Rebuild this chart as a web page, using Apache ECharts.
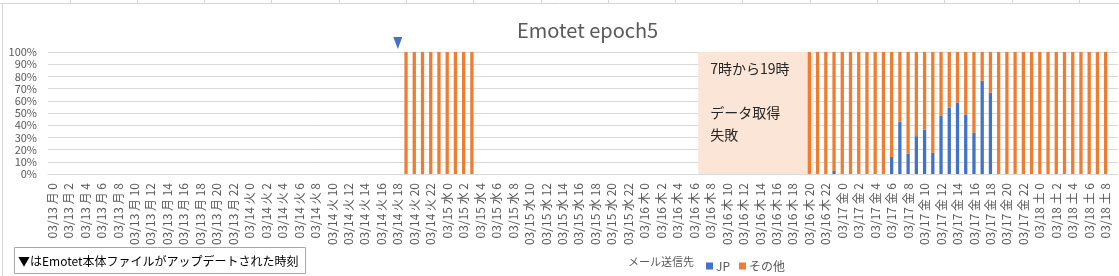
<!DOCTYPE html>
<html>
<head>
<meta charset="utf-8">
<script src="https://cdn.jsdelivr.net/npm/echarts@6/dist/echarts.min.js"></script>
<style>
  html, body { margin: 0; padding: 0; background: #fff; }
  #chart { width: 1119px; height: 276px; }
</style>
</head>
<body>
<div id="chart"></div>
<script>
const N = null;

// one label per hour, "MM/DD 曜 h"
const days = ["03/13 月", "03/14 火", "03/15 水", "03/16 木", "03/17 金", "03/18 土"];
const hoursInDay = [24, 24, 24, 24, 24, 10];

// share of mails sent to JP (%), per hour
const jp_0313 = [N,N,N,N,N,N,N,N,N,N,N,N,N,N,N,N,N,N,N,N,N,N,N,N];
const jp_0314 = [N,N,N,N,N,N,N,N,N,N,N,N,N,N,N,N,N,N,N,0,0,0,0,0];
const jp_0315 = [0,0,0,0,N,N,N,N,N,N,N,N,N,N,N,N,N,N,N,N,N,N,N,N];
const jp_0316 = [N,N,N,N,N,N,N,N,N,N,N,N,N,N,N,N,N,N,N,N,0,0.5,0,2.5];
const jp_0317 = [0,0,0.5,0,0,0,14,43,16.7,31,36.4,17.3,48,54.5,58.6,48.8,33.7,76.4,66.8,0,0,0,0,0];
const jp_0318 = [0,0,0,0,0,0,0.6,0.6,0,N];

// share of mails sent elsewhere (%), per hour
const other_0313 = [N,N,N,N,N,N,N,N,N,N,N,N,N,N,N,N,N,N,N,N,N,N,N,N];
const other_0314 = [N,N,N,N,N,N,N,N,N,N,N,N,N,N,N,N,N,N,N,100,100,100,100,100];
const other_0315 = [100,100,100,100,N,N,N,N,N,N,N,N,N,N,N,N,N,N,N,N,N,N,N,N];
const other_0316 = [N,N,N,N,N,N,N,N,N,N,N,N,N,N,N,N,N,N,N,N,100,99.5,100,97.5];
const other_0317 = [100,100,99.5,100,100,100,86,57,83.3,69,63.6,82.7,52,45.5,41.4,51.2,66.3,23.6,33.2,100,100,100,100,100];
const other_0318 = [100,100,100,100,100,100,99.4,99.4,100,N];

const yTicks = [0, 100, 10]; // min, max, step

const updateAt = "03/14 火 18";
// no data from 7時 up to (not incl.) 20時
const failFrom = "03/16 木 7";
const failTo = "03/16 木 20";

const categories = [];
days.forEach((d, i) => {
  for (let h = 0; h < hoursInDay[i]; h++) categories.push(d + " " + h);
});
const jp = [].concat(jp_0313, jp_0314, jp_0315, jp_0316, jp_0317, jp_0318);
const other = [].concat(other_0313, other_0314, other_0315, other_0316, other_0317, other_0318);

const FONT = "'Noto Sans CJK JP', 'Noto Sans', sans-serif";
const GREY = "#595959";

// spreadsheet cell lines peeking around the chart
const cellLines = [
  { type: "line", shape: { x1: 0, y1: 3.5, x2: 1119, y2: 3.5 }, style: { stroke: "#d4d4d4" } },
  { type: "line", shape: { x1: 2.5, y1: 3.5, x2: 2.5, y2: 276 }, style: { stroke: "#d4d4d4" } },
];
for (let x = 69.5; x < 1119; x += 67.3) {
  cellLines.push({ type: "line", shape: { x1: Math.round(x) + 0.5, y1: 0, x2: Math.round(x) + 0.5, y2: 3.5 }, style: { stroke: "#d4d4d4" } });
}

const chart = echarts.init(document.getElementById("chart"), null, { renderer: "canvas" });
chart.setOption({
  animation: false,
  textStyle: { fontFamily: FONT },
  title: {
    text: "Emotet epoch5",
    left: 512,
    top: 15,
    textStyle: { fontFamily: FONT, fontSize: 20, fontWeight: "normal", color: GREY },
  },
  grid: { left: 48, right: 1, top: 52, bottom: 102 },
  legend: {
    data: ["JP", "その他"],
    left: 701,
    top: 255,
    icon: "rect",
    itemWidth: 7,
    itemHeight: 7,
    itemGap: 9,
    textStyle: { fontFamily: FONT, fontSize: 12, color: GREY, padding: [0, 0, 0, -2] },
  },
  graphic: cellLines.concat([
    {
      type: "text",
      x: 694,
      y: 262,
      style: { text: "メール送信先", font: "11px " + FONT, fill: GREY, align: "right", verticalAlign: "middle" },
    },
    {
      type: "rect",
      shape: { x: 14.5, y: 247.5, width: 291, height: 26 },
      style: { fill: "#fff", stroke: "#a6a6a6" },
    },
    {
      type: "text",
      x: 18,
      y: 261,
      style: { text: "▼はEmotet本体ファイルがアップデートされた時刻", font: "12px " + FONT, fill: "#000", verticalAlign: "middle" },
    },
  ]),
  xAxis: {
    type: "category",
    data: categories,
    axisLine: { lineStyle: { color: "#d9d9d9" } },
    axisTick: { show: false },
    axisLabel: { interval: 1, rotate: 90, margin: 9, fontSize: 12, color: GREY, fontFamily: FONT },
  },
  yAxis: {
    type: "value",
    min: yTicks[0],
    max: yTicks[1],
    interval: yTicks[2],
    axisLine: { show: false },
    axisTick: { show: false },
    splitLine: { lineStyle: { color: "#d9d9d9" } },
    axisLabel: { formatter: "{value}%", margin: 11, fontSize: 11, color: GREY, fontFamily: FONT },
  },
  series: [
    {
      name: "JP",
      type: "bar",
      stack: "share",
      barWidth: "40%",
      itemStyle: { color: "#4472c4" },
      data: jp,
      markPoint: {
        symbol: "triangle",
        symbolRotate: 180,
        symbolSize: [9, 12],
        symbolOffset: [0, -9],
        itemStyle: { color: "#4472c4" },
        label: { show: false },
        data: [{ coord: [updateAt, yTicks[1]] }],
      },
      markArea: {
        silent: true,
        itemStyle: { color: "#fbe5d6" },
        label: {
          show: true,
          position: "insideTopLeft",
          distance: 0,
          padding: [6, 0, 0, 12],
          fontSize: 14,
          lineHeight: 22,
          color: "#262626",
          fontFamily: FONT,
        },
        data: [[
          { xAxis: failFrom, name: "7時から19時\n\nデータ取得\n失敗" },
          { xAxis: failTo },
        ]],
      },
    },
    {
      name: "その他",
      type: "bar",
      stack: "share",
      barWidth: "40%",
      itemStyle: { color: "#ed7d31" },
      data: other,
    },
  ],
});
</script>
</body>
</html>
